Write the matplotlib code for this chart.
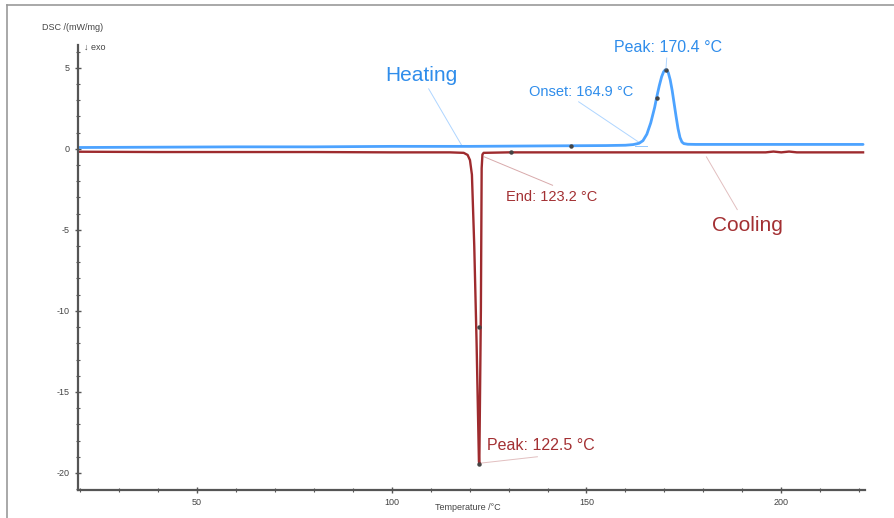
import matplotlib
matplotlib.use("Agg")
import matplotlib.pyplot as plt
from matplotlib.lines import Line2D
from matplotlib.ticker import MultipleLocator

plt.rcParams['font.family'] = ['Liberation Sans', 'DejaVu Sans']
plt.rcParams['axes.unicode_minus'] = False

# heating run (blue)
temp_heat = [19.5, 40, 60, 80, 100, 120, 140, 155, 160, 162, 163.5, 164.5, 165.5, 166.5,
             167.5, 168, 168.7, 169.3, 169.8, 170.2, 170.6, 171.0, 171.5, 172.0, 172.5,
             173.0, 173.5, 174.0, 174.5, 175.0, 176, 178, 200, 221]
dsc_heat = [0.08, 0.1, 0.12, 0.12, 0.15, 0.15, 0.18, 0.2, 0.22, 0.26, 0.34, 0.5, 0.9, 1.6,
            2.55, 3.15, 3.9, 4.45, 4.75, 4.87, 4.86, 4.7, 4.25, 3.6, 2.8,
            2.0, 1.25, 0.7, 0.42, 0.32, 0.28, 0.27, 0.27, 0.27]

# cooling run (red)
temp_cool = [19.5, 40, 60, 80, 100, 115, 118.5, 119.5, 120.1, 120.6, 121.2, 121.8, 122.4,
             122.5, 122.9, 123.1, 123.3, 123.6, 130, 160, 190, 196, 198, 200, 202, 204,
             210, 221]
dsc_cool = [-0.18, -0.2, -0.2, -0.2, -0.22, -0.22, -0.25, -0.38, -0.7, -1.6, -6.0, -12.0,
            -19.3, -19.45, -10.0, -1.2, -0.35, -0.25, -0.22, -0.22, -0.22, -0.22, -0.17,
            -0.22, -0.17, -0.22, -0.22, -0.22]

blue = "#4DA3FF"
blue_txt = "#2F8DEB"
red = "#9E2B2E"
red_txt = "#A33033"

fig = plt.figure(figsize=(8.95, 5.18), dpi=100)
ax = fig.add_axes([0.0872, 0.0541, 0.8793, 0.8589])

ax.plot(temp_heat, dsc_heat, color=blue, lw=2.0, solid_capstyle="round")
ax.plot(temp_cool, dsc_cool, color=red, lw=1.7)

ax.set_xlim(19.5, 221.5)
ax.set_ylim(-21.05, 6.4)

ax.xaxis.set_major_locator(MultipleLocator(50))
ax.xaxis.set_minor_locator(MultipleLocator(10))
ax.yaxis.set_major_locator(MultipleLocator(5))
ax.yaxis.set_minor_locator(MultipleLocator(1))

for s in ["top", "right"]:
    ax.spines[s].set_visible(False)
for s in ["left", "bottom"]:
    ax.spines[s].set_color("#555555")
    ax.spines[s].set_linewidth(1.6)
ax.tick_params(which="both", direction="inout", colors="#555555", labelsize=6.5,
               labelcolor="#444444")
ax.tick_params(which="major", length=5, width=1)
ax.tick_params(which="minor", length=3, width=0.8)

# annotation markers
mk_t = [146, 168, 170.4, 130.7, 122.3, 122.5]
mk_v = [0.18, 3.15, 4.88, -0.22, -11.0, -19.45]
ax.plot(mk_t, mk_v, ls="none", marker="o", ms=2.2, color="#444444")

# leader lines
ax.plot([109.5, 118.0], [3.7, 0.2], color=blue, lw=0.7, alpha=0.45)
ax.plot([148.0, 163.8], [2.9, 0.35], color=blue, lw=0.7, alpha=0.45)
ax.plot([162.5, 165.5], [0.2, 0.2], color=blue, lw=0.7, alpha=0.6)
ax.plot([170.4, 170.6], [4.9, 5.6], color=blue, lw=0.7, alpha=0.45)
ax.plot([123.8, 141.3], [-0.5, -2.25], color=red, lw=0.7, alpha=0.4)
ax.plot([122.6, 137.4], [-19.4, -19.0], color=red, lw=0.7, alpha=0.3)
ax.plot([180.8, 188.7], [-0.5, -3.75], color=red, lw=0.7, alpha=0.3)

# labels
ax.text(107.5, 4.5, "Heating", color=blue_txt, fontsize=15, ha="center", va="center")
ax.text(148.6, 3.5, "Onset: 164.9 °C", color=blue_txt, fontsize=10.5, ha="center", va="center")
ax.text(170.9, 6.25, "Peak: 170.4 °C", color=blue_txt, fontsize=11.5, ha="center", va="center")
ax.text(141.0, -2.95, "End: 123.2 °C", color=red_txt, fontsize=10.5, ha="center", va="center")
ax.text(138.4, -18.3, "Peak: 122.5 °C", color=red_txt, fontsize=11.5, ha="center", va="center")
ax.text(191.2, -4.75, "Cooling", color=red_txt, fontsize=15, ha="center", va="center")

fig.text(42 / 895, 1 - 28 / 518, "DSC /(mW/mg)", fontsize=6.5, color="#444444", va="center")
fig.text(84 / 895, 1 - 47 / 518, "↓ exo", fontsize=6.5, color="#444444", va="center")
fig.text(468 / 895, 1 - 508 / 518, "Temperature /°C", fontsize=6.5, color="#444444",
         ha="center", va="center")

# frame of the picture
fig.add_artist(Line2D([7 / 895, 7 / 895], [0, 1 - 5 / 518], color="#999999", lw=1.2))
fig.add_artist(Line2D([7 / 895, 1], [1 - 5 / 518, 1 - 5 / 518], color="#999999", lw=1.2))

fig.savefig("out.png", dpi=100)
